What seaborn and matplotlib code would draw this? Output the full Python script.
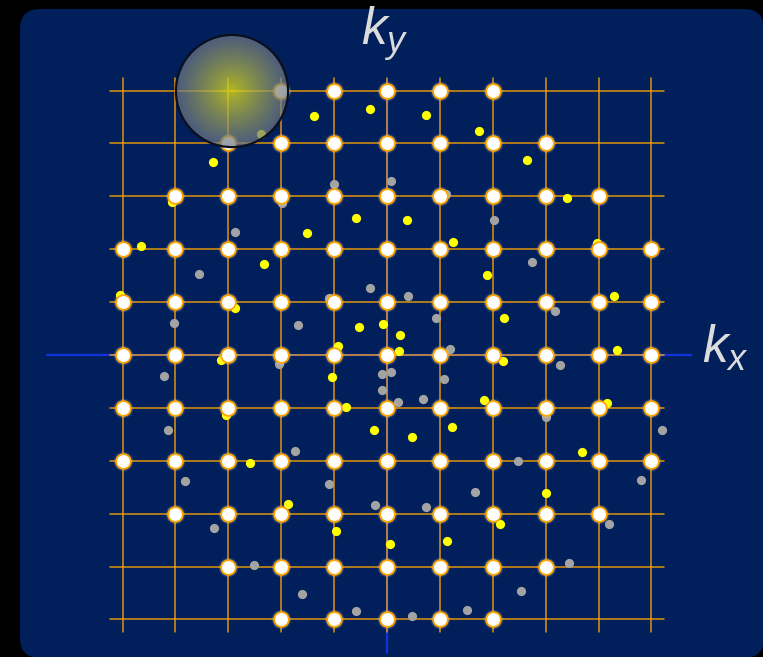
import numpy as np
import pandas as pd
import matplotlib
matplotlib.use("Agg")
import matplotlib.pyplot as plt
from matplotlib.patches import FancyBboxPatch, Circle
import seaborn as sns

# ---- data (k-space, in units of the lattice spacing) ----
grid_k = list(range(-5, 6))                       # lattice line positions
row_ky = [5, 4, 3, 2, 1, 0, -1, -2, -3, -4, -5]    # rows of occupied states
row_half_width = [2, 3, 4, 5, 5, 5, 5, 5, 4, 3, 2] # max |kx| occupied in each row

yellow_kx = [-1.38, -0.32, 0.74, 1.74, 2.65, -2.38, -3.29, -4.06, -0.59, 0.38,
             3.40, -4.65, -1.51, -2.33, 1.25, 3.97, 1.89, 4.29, -5.05, -2.87,
             -0.53, -0.08, 0.25, 2.21, -0.93, 0.23, -3.14, -1.04, 2.19, 4.35,
             -0.78, -3.04, -0.25, 1.83, 4.16, 1.23, 0.47, -2.59, 3.69, -1.87,
             3.01, -0.96, 2.14, 1.13, 0.06]
yellow_ky = [4.52, 4.65, 4.54, 4.23, 3.69, 4.18, 3.65, 2.89, 2.59, 2.55,
             2.97, 2.06, 2.31, 1.72, 2.14, 2.12, 1.51, 1.12, 1.13, 0.89,
             0.53, 0.59, 0.38, 0.70, 0.17, 0.08, -0.09, -0.42, -0.11, 0.09,
             -0.98, -1.13, -1.42, -0.85, -0.91, -1.36, -1.55, -2.04, -1.83, -2.82,
             -2.61, -3.33, -3.19, -3.52, -3.57]

gray_kx = [-1.00, 0.08, -1.98, 1.12, 2.02, -2.87, -3.55, 2.74, -0.32, -1.10,
           0.40, -4.03, -1.68, 0.93, 3.18, 1.19, -2.04, -4.22, -0.09, 0.08,
           -0.09, 1.08, 3.27, 0.21, 0.68, 3.01, -4.14, 5.20, -1.74, 2.48,
           -3.82, -1.10, 4.80, 1.66, -0.23, 0.74, -3.27, 4.20, -2.51, 3.44,
           -1.61, 2.53, -0.59, 1.51, 0.47]
gray_ky = [3.23, 3.29, 2.87, 3.04, 2.55, 2.33, 1.53, 1.76, 1.27, 1.08,
           1.12, 0.60, 0.57, 0.70, 0.83, 0.11, -0.17, -0.40, -0.36, -0.32,
           -0.66, -0.45, -0.19, -0.89, -0.83, -1.17, -1.42, -1.42, -1.81, -2.00,
           -2.38, -2.44, -2.36, -2.59, -2.84, -2.87, -3.27, -3.19, -3.97, -3.93,
           -4.52, -4.46, -4.84, -4.82, -4.93]

probe_center = (-2.93, 4.99)
probe_radius = 1.06

# ---- styling ----
NAVY = "#011F5A"
ORANGE = "#FFA500"
AXIS_BLUE = "#1033E0"
LABEL = "#DCDCDC"

sns.set_style("white")
plt.rcParams["mathtext.fontset"] = "custom"
plt.rcParams["mathtext.it"] = "Liberation Sans:italic"
plt.rcParams["mathtext.rm"] = "Liberation Sans"

fig = plt.figure(figsize=(7.63, 6.57), dpi=100, facecolor="black")
ax = fig.add_axes([0, 0, 1, 1])
ax.set_facecolor("black")
ax.set_xlim(-7.316, 7.108)
ax.set_ylim(-5.709, 6.711)
ax.set_aspect("equal")
ax.axis("off")

# rounded navy panel
panel = FancyBboxPatch((-6.938, -5.728), 14.065, 12.269,
                       boxstyle="round,pad=0,rounding_size=0.38",
                       facecolor=NAVY, edgecolor="none", zorder=0)
ax.add_patch(panel)

# coordinate axes
ax.plot([-6.43, 5.75], [0, 0], color=AXIS_BLUE, lw=1.6, zorder=1)
ax.plot([0, 0], [-5.63, 5.2], color=AXIS_BLUE, lw=1.6, zorder=1)

# lattice lines
ext = 5.23
for g in grid_k:
    ax.plot([g, g], [-ext, ext], color=ORANGE, lw=1.1, alpha=0.88, zorder=2)
    ax.plot([-ext, ext], [g, g], color=ORANGE, lw=1.1, alpha=0.88, zorder=2)

# scattered states
sns.scatterplot(x=gray_kx, y=gray_ky, ax=ax, color="#A3A3A3", s=44,
                linewidth=0, zorder=3, legend=False)
sns.scatterplot(x=yellow_kx, y=yellow_ky, ax=ax, color="#FFFF00", s=44,
                linewidth=0, zorder=3, legend=False)

# occupied lattice states (Fermi sea) with a soft halo
occ = pd.DataFrame(
    [(kx, ky) for ky, hw in zip(row_ky, row_half_width) for kx in range(-hw, hw + 1)],
    columns=["kx", "ky"])

for k in range(3, 0, -1):
    d = 11.0 + 1.1 * k
    sns.scatterplot(data=occ, x="kx", y="ky", ax=ax, color="#FFF0D0",
                    s=d * d, alpha=0.10, linewidth=0, zorder=4, legend=False)
sns.scatterplot(data=occ, x="kx", y="ky", ax=ax, color="white", s=112,
                edgecolor=ORANGE, linewidth=1.3, zorder=5, legend=False)

# probe sphere with radial gradient
n = 300
yy, xx = np.mgrid[-1:1:n * 1j, -1:1:n * 1j]
r = np.clip(np.sqrt(xx ** 2 + yy ** 2), 0, 1)
c0 = np.array([0.86, 0.86, 0.08])
c1 = np.array([0.42, 0.46, 0.55])
t = r[..., None] ** 0.9
rgb = c0 * (1 - t) + c1 * t
alpha = 0.82 - 0.12 * r
img = np.dstack([rgb, alpha])
cx, cy = probe_center
im = ax.imshow(img, extent=(cx - probe_radius, cx + probe_radius,
                            cy - probe_radius, cy + probe_radius),
               origin="lower", zorder=6, interpolation="bilinear")
clip = Circle(probe_center, probe_radius, transform=ax.transData)
im.set_clip_path(clip)
ax.add_patch(Circle(probe_center, probe_radius, facecolor="none",
                    edgecolor="#0A0F1E", lw=1.6, zorder=7))
ax.set_xlim(-7.316, 7.108)
ax.set_ylim(-5.709, 6.711)

# axis labels
ax.text(-0.04, 6.07, r"$k_y$", color=LABEL, fontsize=37,
        ha="center", va="center", zorder=8)
ax.text(6.39, 0.12, r"$k_x$", color=LABEL, fontsize=37,
        ha="center", va="center", zorder=8)

fig.savefig("out.png", dpi=100, facecolor="black")
